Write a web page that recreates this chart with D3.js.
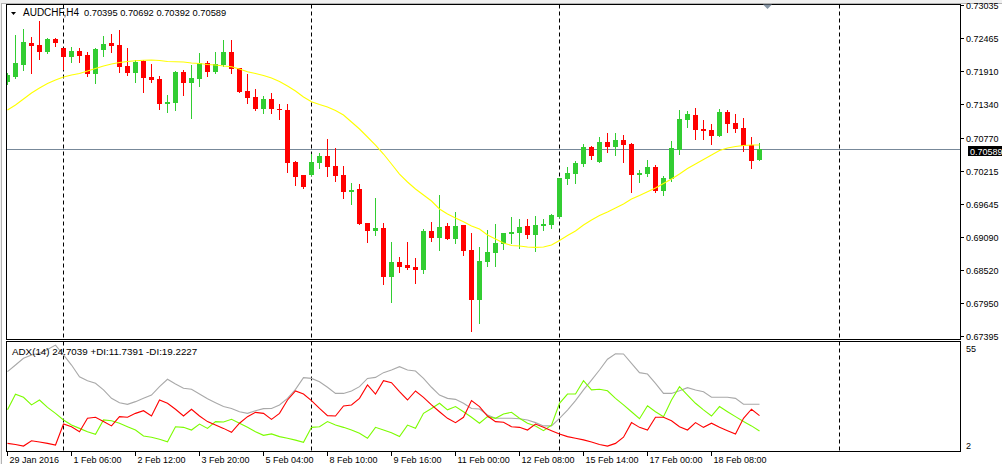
<!DOCTYPE html>
<html>
<head>
<meta charset="utf-8">
<script src="https://cdn.jsdelivr.net/npm/d3@7/dist/d3.min.js"></script>
<style>
html,body{margin:0;padding:0;background:#fff;}
svg{display:block;}
text{font-family:"Liberation Sans",Arial,sans-serif;fill:#000;}
</style>
</head>
<body>
<svg id="chart" width="1002" height="464"></svg>
<script>
// ---------- DATA ----------
const symbol = "AUDCHF,H4";
const open = [
0.71723,0.71808,0.72013,0.72387,0.72353,0.72234,0.72455,0.72302,0.72149,0.72251,
0.72183,0.71859,0.72268,0.72387,0.72353,0.71995,0.71876,0.72081,0.71808,0.71774,
0.71348,0.71365,0.71893,0.71706,0.71774,0.72047,0.71893,0.72013,0.72234,0.71961,
0.71570,0.71467,0.71263,0.71433,0.71263,0.71246,0.70360,0.70138,0.70138,0.70343,
0.70462,0.70291,0.70138,0.69849,0.69900,0.69320,0.69184,0.69235,0.68400,0.68656,
0.68605,0.68571,0.68520,0.69184,0.69065,0.69269,0.69048,0.69286,0.68860,0.68008,
0.68656,0.68809,0.68963,0.69133,0.69150,0.69269,0.69116,0.69269,0.69286,0.69422,
0.70070,0.70155,0.70326,0.70615,0.70360,0.70700,0.70615,0.70735,0.70666,0.70138,
0.70155,0.70274,0.69866,0.70070,0.70564,0.71075,0.71161,0.70922,0.70905,0.70803,
0.71212,0.71024,0.70939,0.70649,0.70395];
const high = [
0.71876,0.72524,0.72626,0.72490,0.72762,0.72472,0.72472,0.72307,0.72319,0.72302,
0.72234,0.72302,0.72507,0.72541,0.72609,0.72302,0.72098,0.72098,0.72030,0.71825,
0.71502,0.71910,0.71927,0.72013,0.72217,0.72081,0.72234,0.72438,0.72438,0.71970,
0.71859,0.71604,0.71484,0.71536,0.71348,0.71348,0.70377,0.70145,0.70496,0.70513,
0.70752,0.70598,0.70291,0.70002,0.69985,0.69325,0.69746,0.69320,0.68997,0.68741,
0.68997,0.68724,0.69218,0.69337,0.69797,0.69320,0.69508,0.69290,0.69150,0.68911,
0.69201,0.69303,0.69155,0.69422,0.69388,0.69388,0.69439,0.69388,0.69473,0.70095,
0.70274,0.70377,0.70666,0.70632,0.70786,0.70854,0.70854,0.70820,0.70683,0.70223,
0.70394,0.70308,0.70121,0.70718,0.71246,0.71229,0.71280,0.71075,0.71007,0.71263,
0.71246,0.71178,0.71109,0.70786,0.70692];
const low = [
0.71689,0.71791,0.71927,0.71876,0.72115,0.72217,0.72336,0.71944,0.72064,0.72064,
0.71825,0.71706,0.72166,0.72234,0.71893,0.71842,0.71723,0.71553,0.71723,0.71263,
0.71212,0.71246,0.71502,0.71109,0.71655,0.71825,0.71876,0.71995,0.71876,0.71545,
0.71365,0.71246,0.71195,0.71195,0.71092,0.70189,0.69968,0.69925,0.70130,0.70257,
0.70121,0.70036,0.69746,0.69644,0.69295,0.68997,0.69116,0.68281,0.67974,0.68486,
0.68537,0.68298,0.68469,0.69014,0.68860,0.69040,0.68980,0.68775,0.67480,0.67616,
0.68588,0.68588,0.68877,0.68980,0.68894,0.69065,0.68843,0.69201,0.69235,0.69415,
0.69985,0.70002,0.70291,0.70411,0.70355,0.70530,0.70479,0.70360,0.69849,0.70019,
0.70121,0.69849,0.69797,0.70036,0.70496,0.70956,0.70752,0.70752,0.70666,0.70795,
0.70871,0.70871,0.70547,0.70257,0.70392];
const close = [
0.71842,0.72047,0.72404,0.72336,0.72234,0.72455,0.72387,0.72149,0.72251,0.72166,
0.71859,0.72285,0.72370,0.72336,0.71978,0.71876,0.72064,0.71791,0.71757,0.71348,
0.71382,0.71893,0.71706,0.71791,0.72047,0.71893,0.72030,0.72234,0.71944,0.71553,
0.71450,0.71263,0.71433,0.71263,0.71246,0.70343,0.70104,0.69934,0.70360,0.70462,
0.70274,0.70121,0.69849,0.69883,0.69303,0.69184,0.69235,0.68400,0.68656,0.68571,
0.68554,0.68520,0.69184,0.69065,0.69252,0.69048,0.69269,0.68843,0.68008,0.68673,
0.68826,0.68980,0.69150,0.69167,0.69252,0.69116,0.69286,0.69303,0.69456,0.70087,
0.70172,0.70343,0.70615,0.70462,0.70700,0.70615,0.70735,0.70649,0.70138,0.70172,
0.70274,0.69866,0.70087,0.70598,0.71092,0.71178,0.70905,0.70888,0.70803,0.71212,
0.71007,0.70922,0.70632,0.70377,0.70589];
const ma = [
0.71246,0.71331,0.71433,0.71536,0.71621,0.71698,0.71757,0.71808,0.71842,0.71868,
0.71910,0.71953,0.71995,0.72030,0.72055,0.72072,0.72086,0.72093,0.72098,0.72089,
0.72072,0.72069,0.72064,0.72047,0.72038,0.72021,0.72013,0.71995,0.71984,0.71944,
0.71898,0.71868,0.71834,0.71791,0.71731,0.71655,0.71570,0.71467,0.71387,0.71339,
0.71297,0.71237,0.71161,0.71041,0.70922,0.70786,0.70649,0.70496,0.70326,0.70155,
0.70019,0.69900,0.69797,0.69695,0.69559,0.69473,0.69405,0.69342,0.69269,0.69218,
0.69116,0.69048,0.68980,0.68937,0.68929,0.68911,0.68906,0.68911,0.68946,0.69022,
0.69107,0.69184,0.69286,0.69371,0.69448,0.69508,0.69576,0.69644,0.69729,0.69789,
0.69854,0.69917,0.69994,0.70070,0.70155,0.70249,0.70326,0.70402,0.70479,0.70556,
0.70598,0.70624,0.70641,0.70649,0.70649];
const adx = [
40.6,43.8,47.1,48.7,49.5,51.4,53.5,48.7,43.8,38.1,
36.2,34.9,31.7,27.6,25.5,24.7,26.0,27.6,29.2,33.3,
36.9,34.6,32.5,32.0,29.7,27.4,25.5,23.6,22.7,21.1,
20.3,21.6,22.6,22.7,24.4,27.6,32.0,37.7,37.3,35.7,
33.0,30.0,30.0,31.2,33.3,37.3,37.8,40.1,41.4,43.0,
41.4,40.9,37.3,33.0,29.2,27.6,27.1,25.2,22.7,22.4,
19.5,17.9,17.9,17.9,17.7,17.1,15.8,14.2,14.2,17.9,
21.9,26.5,31.7,36.5,41.4,46.6,49.3,49.2,44.6,40.1,
39.4,34.9,30.0,30.0,31.3,32.8,31.7,30.8,28.1,28.1,
28.1,27.6,24.7,24.7,24.7039];
const plusDI = [
22.0,29.6,28.1,24.4,26.8,23.2,20.3,17.1,14.6,13.0,
11.4,10.1,17.1,16.7,15.5,13.8,12.2,9.3,8.7,7.7,
6.5,13.8,13.5,12.2,15.1,13.0,16.3,16.1,17.4,15.5,
13.5,11.4,9.6,10.3,9.0,8.2,7.3,6.2,13.5,13.8,
16.3,14.6,13.5,12.2,10.6,8.2,13.5,12.2,10.9,9.0,
14.6,13.0,20.3,22.7,25.2,22.0,23.6,21.1,18.4,15.5,
18.7,17.9,20.0,20.8,17.9,15.5,14.2,11.9,14.6,25.2,
29.7,29.7,36.2,31.7,32.0,31.3,27.6,24.4,21.1,17.7,
24.0,21.1,18.7,26.8,33.3,29.2,25.2,22.0,19.0,23.6,
21.1,18.7,16.3,14.2,11.7391];
const minusDI = [
5.7,5.2,4.4,7.0,6.4,5.7,4.9,15.1,13.8,11.4,
17.9,18.4,16.3,14.2,18.7,18.4,20.3,21.6,19.0,26.8,
25.2,22.3,19.0,22.3,19.0,16.3,14.6,13.0,11.1,15.5,
18.7,20.8,20.3,17.4,20.3,26.8,31.2,29.7,26.5,22.7,
19.2,19.0,23.9,24.4,27.6,34.1,29.7,36.2,35.2,30.9,
26.8,31.2,28.1,24.4,21.1,17.9,15.8,18.4,26.5,23.6,
19.0,16.3,16.0,13.8,13.5,12.2,15.1,13.5,11.9,10.3,
9.0,8.2,7.4,6.4,5.2,4.4,5.7,8.7,15.8,13.5,
12.2,18.4,18.4,16.7,13.8,12.2,15.8,13.5,15.5,13.5,
11.9,10.3,17.9,22.3,19.2227];
const priceTicks = ["0.73035","0.72465","0.71910","0.71340","0.70770","0.70215","0.69645","0.69090","0.68520","0.67950","0.67395"];
const timeLabels = ["29 Jan 2016","1 Feb 06:00","2 Feb 12:00","3 Feb 20:00","5 Feb 04:00","8 Feb 10:00","9 Feb 16:00","11 Feb 00:00","12 Feb 08:00","15 Feb 14:00","17 Feb 00:00","18 Feb 08:00"];
const timeLabelBars = [0,8,16,24,32,40,48,56,64,72,80,88];
const weekSeparatorBars = [7,38,69,104];
const adxRange = [2,55];

// ---------- LAYOUT ----------
const L = 6.5, R = 960.5;
const mainTop = 4.5, mainBot = 339.5;
const indTop = 341.5, indBot = 451.5;
const n = close.length;
const bars = d3.range(n);

const svg = d3.select("#chart");
const x = d3.scaleLinear().domain([0, 94]).range([7, 759]);
const y = d3.scaleLinear().domain([0.67344, 0.73052]).range([339, 4]);
const yi = d3.scaleLinear().domain(adxRange).range([451, 342]);

const GREEN = "#32CD32", RED = "#FF0000";

// window chrome
svg.append("rect").attr("x",0).attr("y",0).attr("width",1002).attr("height",3).attr("fill","#f0f0f0");
svg.append("line").attr("x1",0).attr("x2",1002).attr("y1",3.5).attr("y2",3.5).attr("stroke","#b4b4b4");
svg.append("rect").attr("x",0).attr("y",0).attr("width",1.5).attr("height",464).attr("fill","#f0f0f0");
svg.append("line").attr("x1",1.5).attr("x2",1.5).attr("y1",3).attr("y2",464).attr("stroke","#b4b4b4");

// clip for main
svg.append("clipPath").attr("id","clipMain").append("rect")
  .attr("x",L).attr("y",mainTop).attr("width",R-L).attr("height",mainBot-mainTop);
svg.append("clipPath").attr("id","clipInd").append("rect")
  .attr("x",L).attr("y",indTop).attr("width",R-L).attr("height",indBot-indTop);

// week separators
const sep = svg.append("g");
weekSeparatorBars.forEach(b => {
  const xx = Math.round(x(b)) + 0.5;
  sep.append("line").attr("x1",xx).attr("x2",xx).attr("y1",mainTop).attr("y2",mainBot)
    .attr("stroke","#000").attr("stroke-dasharray","4,3");
  sep.append("line").attr("x1",xx).attr("x2",xx).attr("y1",indTop).attr("y2",indBot)
    .attr("stroke","#000").attr("stroke-dasharray","4,3");
});

// bid line
const bid = close[n-1];
const bidY = Math.round(y(bid)) + 0.5;

const gMain = svg.append("g").attr("clip-path","url(#clipMain)");
gMain.append("line").attr("x1",L).attr("x2",R).attr("y1",bidY).attr("y2",bidY)
  .attr("stroke","#778899").attr("stroke-width",1.2);

// candles
const candles = gMain.append("g").attr("shape-rendering","crispEdges");
candles.selectAll("rect.wick").data(bars).join("rect").attr("class","wick")
  .attr("x", i => Math.round(x(i)))
  .attr("width", 1)
  .attr("y", i => Math.round(y(high[i])))
  .attr("height", i => Math.max(1, Math.round(y(low[i])) - Math.round(y(high[i])) + 1))
  .attr("fill", i => close[i] >= open[i] ? GREEN : RED);
candles.selectAll("rect.body").data(bars).join("rect").attr("class","body")
  .attr("x", i => Math.round(x(i)) - 2)
  .attr("width", 5)
  .attr("y", i => Math.round(y(Math.max(open[i], close[i]))))
  .attr("height", i => Math.max(1, Math.round(y(Math.min(open[i], close[i]))) - Math.round(y(Math.max(open[i], close[i])))))
  .attr("fill", i => close[i] >= open[i] ? GREEN : RED);

// moving average
gMain.append("path").datum(bars)
  .attr("d", d3.line().x(i => x(i) + 0.5).y(i => y(ma[i])))
  .attr("fill","none").attr("stroke","#FFFF00").attr("stroke-width",1.1);

// indicator lines
const gInd = svg.append("g").attr("clip-path","url(#clipInd)");
const indLine = arr => d3.line().x(i => x(i) + 0.5).y(i => yi(arr[i]))(bars);
gInd.append("path").attr("d", indLine(adx)).attr("fill","none").attr("stroke","#A9A9A9").attr("stroke-width",1.1);
gInd.append("path").attr("d", indLine(plusDI)).attr("fill","none").attr("stroke","#7CFC00").attr("stroke-width",1.1);
gInd.append("path").attr("d", indLine(minusDI)).attr("fill","none").attr("stroke","#FF0000").attr("stroke-width",1.1);

// frames
const frames = svg.append("g").attr("shape-rendering","crispEdges").attr("fill","none").attr("stroke","#000");
frames.append("rect").attr("x",L).attr("y",mainTop).attr("width",R-L).attr("height",mainBot-mainTop);
frames.append("rect").attr("x",L).attr("y",indTop).attr("width",R-L).attr("height",indBot-indTop);

// chart shift marker
svg.append("path").attr("d","M763,4.5 L772,4.5 L767.5,9 Z").attr("fill","#8796a5");

// header
svg.append("path").attr("d","M11,12 L16,12 L13.5,15 Z").attr("fill","#000");
svg.append("text").attr("x",23).attr("y",16).attr("font-size","10px").text(symbol);
svg.append("text").attr("x",84).attr("y",16).attr("font-size","9.3px")
  .text([open[n-1], high[n-1], low[n-1], close[n-1]].map(v => v.toFixed(5)).join(" "));

// price axis
const pa = svg.append("g");
priceTicks.forEach(t => {
  const yy = Math.round(y(+t)) + 0.5;
  pa.append("line").attr("x1",R).attr("x2",R+3).attr("y1",yy).attr("y2",yy).attr("stroke","#000").attr("shape-rendering","crispEdges");
  pa.append("text").attr("x",966).attr("y",yy+3.5).attr("font-size","9px").text(t);
});
// bid label
pa.append("rect").attr("x",968).attr("y",bidY-3.5).attr("width",34).attr("height",10).attr("fill","#000");
pa.append("text").attr("x",970).attr("y",bidY+5).attr("font-size","9px").style("fill","#fff").text(bid.toFixed(5));

// indicator scale labels
svg.append("text").attr("x",966).attr("y",352).attr("font-size","9px").text(String(adxRange[1]));
svg.append("text").attr("x",966).attr("y",449).attr("font-size","9px").text(String(adxRange[0]));

// indicator label
svg.append("text").attr("x",12).attr("y",355).attr("font-size","9.8px")
  .text(`ADX(14) ${adx[n-1].toFixed(4)} +DI:${plusDI[n-1].toFixed(4)} -DI:${minusDI[n-1].toFixed(4)}`);

// time axis
const ta = svg.append("g");
timeLabels.forEach((t, j) => {
  const xx = Math.round(x(timeLabelBars[j])) + 0.5;
  ta.append("line").attr("x1",xx).attr("x2",xx).attr("y1",indBot).attr("y2",indBot+4).attr("stroke","#000").attr("shape-rendering","crispEdges");
  ta.append("text").attr("x",xx+2).attr("y",463).attr("font-size","9px").text(t);
});
</script>
</body>
</html>
